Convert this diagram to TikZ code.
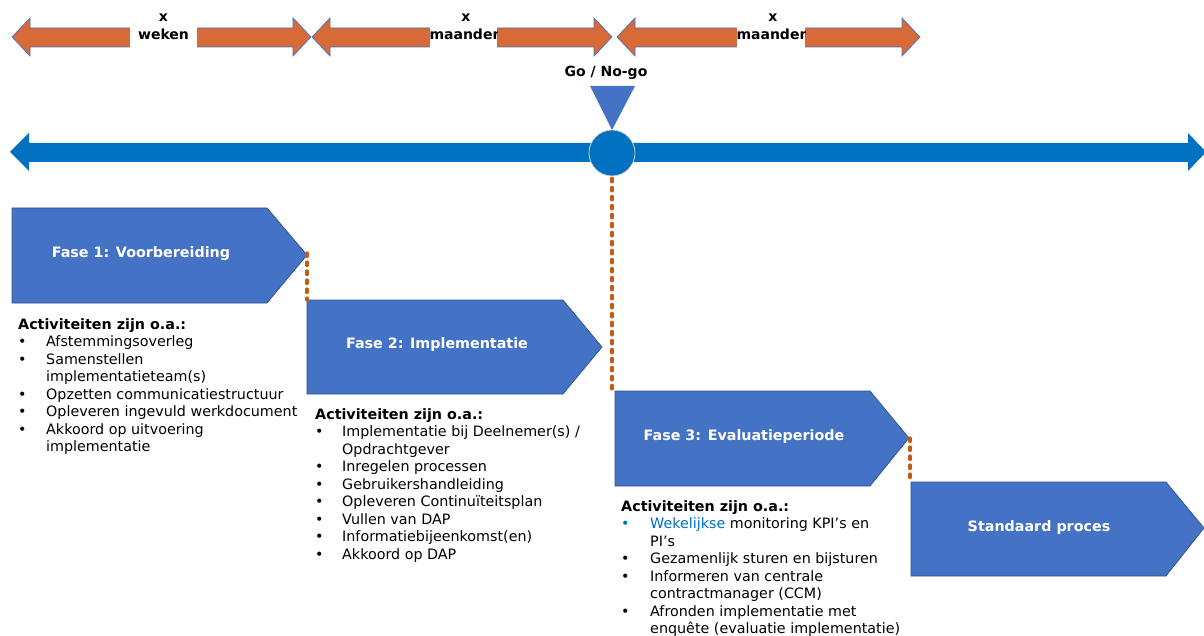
\documentclass[tikz,border=0pt]{standalone}
\usepackage{fontspec}
\setmainfont{DejaVu Sans}
\definecolor{arrowor}{RGB}{216,106,56}
\definecolor{arrowedge}{RGB}{68,114,196}
\definecolor{phase}{RGB}{68,114,196}
\definecolor{phaseedge}{RGB}{47,82,143}
\definecolor{bar}{RGB}{0,112,192}
\definecolor{dotor}{RGB}{197,90,17}
\definecolor{wblue}{RGB}{0,112,192}
\begin{document}
\begin{tikzpicture}[x=1pt,y=-1pt,
  orarrow/.style={fill=arrowor,draw=arrowedge,line width=0.7pt,line join=miter},
  phasebox/.style={fill=phase,draw=phaseedge,line width=0.7pt},
  phasetext/.style={text=white,font=\bfseries\fontsize{14.3}{17}\selectfont,inner sep=0pt},
  toplbl/.style={font=\bfseries\fontsize{14}{18}\selectfont,align=center,inner sep=0pt},
  dotline/.style={draw=dotor,line width=3.2pt,line cap=round,dash pattern=on 3.5pt off 5.5pt},
  listtext/.style={font=\fontsize{14.3}{17.5}\selectfont,inner sep=0pt,anchor=north west}]
\useasboundingbox (0,0) rectangle (1204,636);

% ---- top orange double arrows
\path[orarrow] (12,37) -- (30,18) -- (30,28) -- (293,28) -- (293,18) -- (311,37) -- (293,56) -- (293,47) -- (30,47) -- (30,56) -- cycle;
\path[orarrow] (312,37) -- (330,18) -- (330,28) -- (594,28) -- (594,18) -- (612,37) -- (594,56) -- (594,47) -- (330,47) -- (330,56) -- cycle;
\path[orarrow] (617,37) -- (635,18) -- (635,28) -- (902,28) -- (902,18) -- (920,37) -- (902,56) -- (902,47) -- (635,47) -- (635,56) -- cycle;

\begin{scope}
  \clip (130,4) rectangle (197,52);
  \fill[white] (130,4) rectangle (197,52);
  \node[toplbl] (lbl1) at (163.5,27) {x\\weken};
\end{scope}
\begin{scope}
  \clip (430,4) rectangle (497,52);
  \fill[white] (430,4) rectangle (497,52);
  \node[toplbl] (lbl2) at (466,27) {x\\maanden};
\end{scope}
\begin{scope}
  \clip (737,4) rectangle (805,52);
  \fill[white] (737,4) rectangle (805,52);
  \node[toplbl] (lbl3) at (773,27) {x\\maanden};
\end{scope}

% ---- Go / No-go
\node[toplbl] (gotext) at (606,73) {Go / No-go};
\fill[phase] (590,86) -- (635,86) -- (612,130) -- cycle;

% ---- blue time bar
\fill[bar] (10,152) -- (29,133) -- (29,143) -- (1188,143) -- (1188,133) -- (1206,152) -- (1188,171) -- (1188,162) -- (29,162) -- (29,171) -- cycle;
\node[circle,fill=bar,draw=gray!35,line width=0.8pt,minimum size=46pt,inner sep=0pt] (gonogo) at (612,153) {};

% ---- phase chevrons
\path[phasebox] (12,208) -- (267,208) -- (307,255) -- (267,303) -- (12,303) -- cycle;
\node[phasetext] (f1) at (141,254) {Fase 1: Voorbereiding};
\coordinate (f1tip) at (307,253);

\path[phasebox] (307,300) -- (563,300) -- (602,347) -- (563,394) -- (307,394) -- cycle;
\node[phasetext] (f2) at (437,345) {Fase 2: Implementatie};
\coordinate (f2top) at (307,300);

\path[phasebox] (615,391) -- (870,391) -- (909,438) -- (870,486) -- (615,486) -- cycle;
\node[phasetext] (f3) at (744,437) {Fase 3: Evaluatieperiode};
\coordinate (f3top) at (613,391);
\coordinate (f3tip) at (910,438);

\path[phasebox] (911,482) -- (1166,482) -- (1204,528) -- (1166,576) -- (911,576) -- cycle;
\node[phasetext] (f4) at (1039,528) {Standaard proces};
\coordinate (f4top) at (910,482);

% ---- dotted connectors
\draw[dotline] (f1tip) -- (f2top);
\draw[dotline] ([yshift=-2pt]gonogo.south) -- (gonogo.south |- f3top);
\draw[dotline] (f3tip) -- (f4top);

% ---- activity lists
\node[listtext] (act1) at (18,317) {\begin{tabular}{@{}p{28pt}@{}l@{}}
\multicolumn{2}{@{}l@{}}{\bfseries Activiteiten zijn o.a.:}\\
\textbullet & Afstemmingsoverleg\\
\textbullet & Samenstellen\\
 & implementatieteam(s)\\
\textbullet & Opzetten communicatiestructuur\\
\textbullet & Opleveren ingevuld werkdocument\\
\textbullet & Akkoord op uitvoering\\
 & implementatie
\end{tabular}};

\node[listtext] (act2) at (315,407) {\begin{tabular}{@{}p{27pt}@{}l@{}}
\multicolumn{2}{@{}l@{}}{\bfseries Activiteiten zijn o.a.:}\\
\textbullet & Implementatie bij Deelnemer(s) /\\
 & Opdrachtgever\\
\textbullet & Inregelen processen\\
\textbullet & Gebruikershandleiding\\
\textbullet & Opleveren Continuïteitsplan\\
\textbullet & Vullen van DAP\\
\textbullet & Informatiebijeenkomst(en)\\
\textbullet & Akkoord op DAP
\end{tabular}};

\node[listtext] (act3) at (621,499) {\begin{tabular}{@{}p{29pt}@{}l@{}}
\multicolumn{2}{@{}l@{}}{\bfseries Activiteiten zijn o.a.:}\\
\leavevmode\textcolor{wblue}{\textbullet} & \textcolor{wblue}{Wekelijkse} monitoring KPI’s en\\
 & PI’s\\
\textbullet & Gezamenlijk sturen en bijsturen\\
\textbullet & Informeren van centrale\\
 & contractmanager (CCM)\\
\textbullet & Afronden implementatie met\\
 & enquête (evaluatie implementatie)
\end{tabular}};
\end{tikzpicture}
\end{document}
